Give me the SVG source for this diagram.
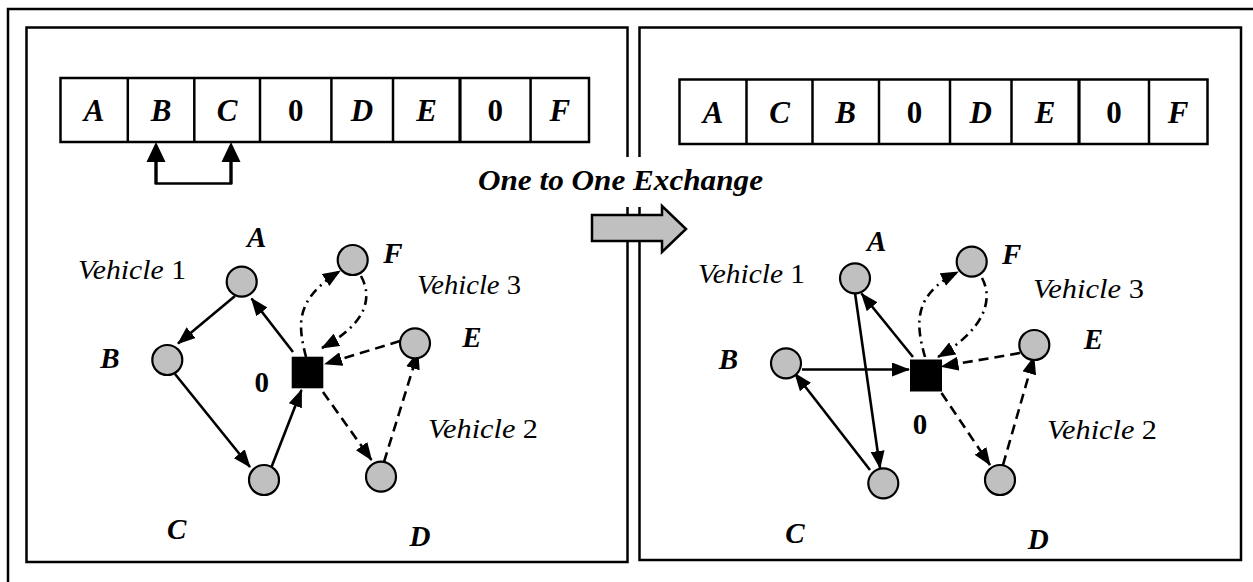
<svg xmlns="http://www.w3.org/2000/svg" width="1253" height="582" viewBox="0 0 1253 582">
<defs>
<style>
.frame{fill:none;stroke:#000;stroke-width:2.5}
.cell{fill:#fff;stroke:#000;stroke-width:2.5}
.div{stroke:#000;stroke-width:2.5}
.node{fill:#c0c0c0;stroke:#000;stroke-width:2.2}
.depot{fill:#000}
.edge{fill:none;stroke:#000;stroke-width:2.6;marker-end:url(#ah)}
.dash{stroke-dasharray:10 6}
.dashdot{stroke-dasharray:9 5 2 5}
.lbl{font-family:"Liberation Serif","Times New Roman",serif;font-weight:bold;font-style:italic;font-size:29px;text-anchor:middle;fill:#000}
.ct{font-size:31px}
.up{font-style:normal}
.veh{font-family:"Liberation Serif","Times New Roman",serif;font-style:italic;font-size:28px;fill:#000}
.title{font-family:"Liberation Serif","Times New Roman",serif;font-weight:bold;font-style:italic;font-size:30px;fill:#000}
</style>
<marker id="ah" viewBox="0 0 18 14" refX="17" refY="7" markerWidth="18" markerHeight="14" markerUnits="userSpaceOnUse" orient="auto">
<path d="M0,0 L18,7 L0,14 z" fill="#000"/>
</marker>
</defs>
<rect width="1253" height="582" fill="#fff"/>

<!-- frames -->
<rect class="frame" x="8" y="9" width="1270" height="600"/>
<rect class="frame" x="26.5" y="27.5" width="601" height="534.5"/>
<rect class="frame" x="639.5" y="27.5" width="601.5" height="532.5"/>

<!-- title over gap -->
<g id="exchange">
<rect x="468" y="157" width="305" height="50" fill="#fff"/>
<text class="title" x="478" y="190" textLength="285" lengthAdjust="spacingAndGlyphs">One to One Exchange</text>
<polygon points="592,215 662,215 662,206 686,229 662,252 662,241 592,241" fill="#c0c0c0" stroke="#000" stroke-width="2.5"/>
</g>

<!-- left array -->
<g id="array-left">
<rect class="cell" x="60.5" y="78" width="528.5" height="64"/>
<line class="div" x1="127.8" y1="78" x2="127.8" y2="142"/>
<line class="div" x1="194.3" y1="78" x2="194.3" y2="142"/>
<line class="div" x1="260" y1="78" x2="260" y2="142"/>
<line class="div" x1="331.4" y1="78" x2="331.4" y2="142"/>
<line class="div" x1="393" y1="78" x2="393" y2="142"/>
<line class="div" x1="460" y1="78" x2="460" y2="142" style="stroke-width:3.2"/>
<line class="div" x1="530.6" y1="78" x2="530.6" y2="142"/>
<text class="lbl ct" x="94" y="121">A</text>
<text class="lbl ct" x="161" y="121">B</text>
<text class="lbl ct" x="227" y="121">C</text>
<text class="lbl ct up" x="295.7" y="121">0</text>
<text class="lbl ct" x="362" y="121">D</text>
<text class="lbl ct" x="426.5" y="121">E</text>
<text class="lbl ct up" x="495.3" y="121">0</text>
<text class="lbl ct" x="559.8" y="121">F</text>
</g>
<g id="swap-arrows">
<polyline points="156,162 156,183.5 231,183.5 231,162" fill="none" stroke="#000" stroke-width="2.5"/>
<path d="M156,142 L165.5,162 L146.5,162 z" fill="#000"/>
<path d="M231,142 L240.5,162 L221.5,162 z" fill="#000"/>
<line x1="156" y1="160" x2="156" y2="184" stroke="#000" stroke-width="3.2"/>
<line x1="231" y1="160" x2="231" y2="184" stroke="#000" stroke-width="3.2"/>
</g>

<!-- right array -->
<g id="array-right">
<rect class="cell" x="679.5" y="79.5" width="528" height="64.5"/>
<line class="div" x1="746.5" y1="79.5" x2="746.5" y2="144"/>
<line class="div" x1="812.5" y1="79.5" x2="812.5" y2="144"/>
<line class="div" x1="879" y1="79.5" x2="879" y2="144"/>
<line class="div" x1="950" y1="79.5" x2="950" y2="144"/>
<line class="div" x1="1011.5" y1="79.5" x2="1011.5" y2="144"/>
<line class="div" x1="1079" y1="79.5" x2="1079" y2="144" style="stroke-width:3.2"/>
<line class="div" x1="1149" y1="79.5" x2="1149" y2="144"/>
<text class="lbl ct" x="713" y="122.5">A</text>
<text class="lbl ct" x="779.5" y="122.5">C</text>
<text class="lbl ct" x="845.7" y="122.5">B</text>
<text class="lbl ct up" x="914.5" y="122.5">0</text>
<text class="lbl ct" x="980.7" y="122.5">D</text>
<text class="lbl ct" x="1045" y="122.5">E</text>
<text class="lbl ct up" x="1114" y="122.5">0</text>
<text class="lbl ct" x="1178" y="122.5">F</text>
</g>

<!-- connectors -->
<g id="connectors">
<!-- left -->
<path class="edge" d="M293,352 L251.5,298.5"/>
<path class="edge" d="M235,296 L178,343.5"/>
<path class="edge" d="M175,374 L250,467"/>
<path class="edge" d="M271.5,467 L301.5,390"/>
<path class="edge dash" d="M323,392 L371.5,460"/>
<path class="edge dash" d="M384,462 L418,352"/>
<path class="edge dash" d="M400,341 L325,364"/>
<path class="edge dashdot" d="M306,357 C298,325 294,300 340,271"/>
<path class="edge dashdot" d="M361,276 C374,300 364,325 322,348"/>
<!-- right -->
<path class="edge" d="M913,357 L861.5,293.5"/>
<path class="edge" d="M855,293 L880,468"/>
<path class="edge" d="M870,470 L795,373.5"/>
<path class="edge" d="M802,369.5 L909,369.5"/>
<path class="edge dash" d="M941.5,393 L990,465"/>
<path class="edge dash" d="M1003,465 L1034,357"/>
<path class="edge dash" d="M1020,353 L941.5,366.5"/>
<path class="edge dashdot" d="M925,357 C916,325 912,295 958,272"/>
<path class="edge dashdot" d="M982,278 C994,300 984,330 938,357"/>
</g>

<!-- left graph nodes -->
<g id="L-depot"><rect class="depot" x="291.7" y="356.7" width="31.6" height="31.6"/><text class="lbl up" x="261.7" y="392">0</text></g>
<g id="L-A"><circle class="node" cx="241.7" cy="281.7" r="15"/><text class="lbl" x="256.7" y="247">A</text></g>
<g id="L-B"><circle class="node" cx="167.3" cy="360" r="15"/><text class="lbl" x="110" y="368">B</text></g>
<g id="L-C"><circle class="node" cx="264" cy="480" r="15"/><text class="lbl" x="176.7" y="539">C</text></g>
<g id="L-D"><circle class="node" cx="381" cy="476.7" r="15"/><text class="lbl" x="420" y="546">D</text></g>
<g id="L-E"><circle class="node" cx="415" cy="343.3" r="15"/><text class="lbl" x="472" y="347">E</text></g>
<g id="L-F"><circle class="node" cx="352.7" cy="260" r="15"/><text class="lbl" x="393" y="263">F</text></g>
<g id="L-vehicles">
<text class="veh" x="78" y="279" textLength="108" lengthAdjust="spacingAndGlyphs">Vehicle <tspan class="up">1</tspan></text>
<text class="veh" x="417" y="294" textLength="104" lengthAdjust="spacingAndGlyphs">Vehicle <tspan class="up">3</tspan></text>
<text class="veh" x="428" y="438" textLength="110" lengthAdjust="spacingAndGlyphs">Vehicle <tspan class="up">2</tspan></text>
</g>

<!-- right graph nodes -->
<g id="R-depot"><rect class="depot" x="910" y="359.5" width="32" height="32"/><text class="lbl up" x="920" y="434">0</text></g>
<g id="R-A"><circle class="node" cx="855" cy="278.3" r="15"/><text class="lbl" x="876.7" y="251">A</text></g>
<g id="R-B"><circle class="node" cx="786" cy="363.3" r="15"/><text class="lbl" x="728.3" y="369">B</text></g>
<g id="R-C"><circle class="node" cx="883.3" cy="483.3" r="15"/><text class="lbl" x="795" y="543">C</text></g>
<g id="R-D"><circle class="node" cx="1000" cy="480" r="15"/><text class="lbl" x="1038.3" y="549">D</text></g>
<g id="R-E"><circle class="node" cx="1034.3" cy="345" r="15"/><text class="lbl" x="1093.3" y="349">E</text></g>
<g id="R-F"><circle class="node" cx="971.7" cy="261.7" r="15"/><text class="lbl" x="1011.7" y="264">F</text></g>
<g id="R-vehicles">
<text class="veh" x="698" y="283" textLength="107" lengthAdjust="spacingAndGlyphs">Vehicle <tspan class="up">1</tspan></text>
<text class="veh" x="1033" y="298" textLength="111" lengthAdjust="spacingAndGlyphs">Vehicle <tspan class="up">3</tspan></text>
<text class="veh" x="1047" y="439" textLength="110" lengthAdjust="spacingAndGlyphs">Vehicle <tspan class="up">2</tspan></text>
</g>
</svg>
